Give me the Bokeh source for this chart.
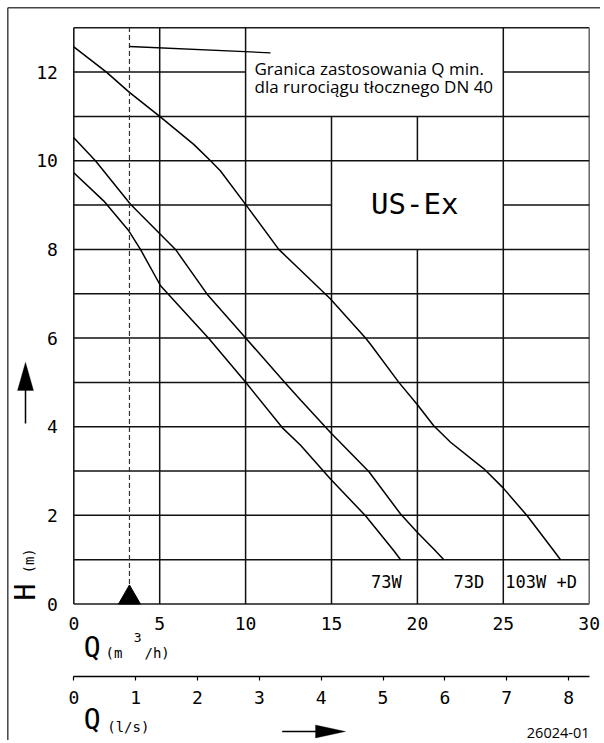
from bokeh.plotting import figure
from bokeh.models import Range1d, LinearAxis, FixedTicker, Label, PolyAnnotation
from bokeh.embed import file_html
from bokeh.resources import INLINE

# ---------------- data ----------------
# Q in m3/h, H in m
q_103wd = [0, 1.9, 3.22, 5.0, 6.98, 7.96, 8.54, 10.03, 11.93, 13.2, 14.94, 16.98,
           17.27, 18.92, 19.99, 20.95, 21.93, 23.87, 24.99, 26.39, 27.94, 28.33]
h_103wd = [12.57, 12.0, 11.55, 11.0, 10.37, 10.0, 9.77, 9.0, 8.0, 7.53, 6.88, 6.0,
           5.86, 5.0, 4.5, 4.02, 3.65, 3.05, 2.62, 1.99, 1.2, 1.0]

q_73d = [0, 1.26, 3.3, 5.92, 7.76, 10.03, 12.32, 13.2, 14.94, 17.17, 19.02, 19.99, 20.95, 21.54]
h_73d = [10.52, 10.0, 9.02, 8.0, 6.99, 5.99, 4.98, 4.6, 3.87, 2.99, 2.03, 1.62, 1.24, 1.0]

q_73w = [0, 1.75, 3.2, 3.88, 5.05, 7.86, 10.03, 12.13, 13.2, 14.94, 16.98, 18.63, 19.02]
h_73w = [9.73, 9.09, 8.42, 8.0, 7.18, 5.99, 4.99, 3.98, 3.58, 2.82, 1.99, 1.2, 1.0]

curve_names = ["73W", "73D", "103W +D"]
curve_label_q = [18.2, 23.0, 27.2]

q_ticks_m3h = [0, 5, 10, 15, 20, 25, 30]
q_ticks_ls = [0, 1, 2, 3, 4, 5, 6, 7, 8]
h_ticks = [0, 2, 4, 6, 8, 10, 12]

q_min_ls = 0.9          # Q min for DN 40 discharge line, l/s
M3H_PER_LS = 3.6
q_min = q_min_ls * M3H_PER_LS

Q_MAX, H_MAX = 30, 13

note_lines = ["Granica zastosowania Q min.", "dla rurociągu tłocznego DN 40"]
box_title = "US-Ex"
drawing_no = "26024-01"

# ---------------- layout: pixel placement of the chart box ----------------
W, HC = 600, 740
PX_Q0, PX_QMAX = 73.3, 588.7      # left / right edge of chart box
PY_H0, PY_HMAX = 603.5, 27.3      # bottom / top edge of chart box
SX = (PX_QMAX - PX_Q0) / Q_MAX
SY = (PY_H0 - PY_HMAX) / H_MAX


def qx(px):
    return (px - PX_Q0) / SX


def hy(py):
    return (PY_H0 - py) / SY


p = figure(width=W, height=HC,
           x_range=Range1d(qx(0), qx(W)), y_range=Range1d(hy(HC), hy(0)),
           output_backend="svg", toolbar_location=None,
           x_axis_location=None, y_axis_location=None,
           min_border=0, min_border_left=0, min_border_right=0,
           min_border_top=0, min_border_bottom=0)
p.xgrid.visible = False
p.ygrid.visible = False
p.outline_line_color = None
p.background_fill_color = "white"
p.border_fill_color = "white"

ISO = "DejaVu Sans Mono"
SANS = "Open Sans"

# ---------------- axes (fixed inside the canvas) ----------------
ya = LinearAxis(fixed_location=0, bounds=(0, H_MAX), ticker=FixedTicker(ticks=h_ticks))
ya.axis_line_color = None
ya.major_tick_line_color = None
ya.minor_tick_line_color = None
ya.major_label_standoff = 10
ya.major_label_text_font = ISO
ya.major_label_text_font_size = "18px"
ya.major_label_text_color = "black"
p.add_layout(ya, "left")

xa = LinearAxis(fixed_location=0, bounds=(0, Q_MAX), ticker=FixedTicker(ticks=q_ticks_m3h))
xa.axis_line_color = None
xa.major_tick_line_color = None
xa.minor_tick_line_color = None
xa.major_label_standoff = 7
xa.major_label_text_font = ISO
xa.major_label_text_font_size = "18px"
xa.major_label_text_color = "black"
p.add_layout(xa, "below")

p.extra_x_ranges = {"ls": Range1d(qx(0) / M3H_PER_LS, qx(W) / M3H_PER_LS)}
ax2 = LinearAxis(x_range_name="ls", fixed_location=hy(675.7), bounds=(0, Q_MAX / M3H_PER_LS),
                 ticker=FixedTicker(ticks=q_ticks_ls))
ax2.axis_line_color = "black"
ax2.axis_line_width = 1.5
ax2.major_tick_in = 0
ax2.major_tick_out = 4
ax2.major_tick_line_width = 1.2
ax2.major_tick_line_color = "black"
ax2.minor_tick_line_color = None
ax2.major_label_standoff = 11
ax2.major_label_text_font = ISO
ax2.major_label_text_font_size = "18px"
ax2.major_label_text_color = "black"
p.add_layout(ax2, "below")

# ---------------- sheet frame and chart box ----------------
p.segment(x0=[qx(7.3), qx(7.3)], y0=[hy(7.3), hy(7.3)], x1=[qx(W + 5), qx(7.3)],
          y1=[hy(7.3), hy(HC + 5)], line_color="#444444", line_width=1.5)
p.segment(x0=[0, 0, 0], y0=[0, 0, H_MAX], x1=[Q_MAX, 0, Q_MAX], y1=[0, H_MAX, H_MAX],
          line_color="#1a1a1a", line_width=1.6)
p.segment(x0=[Q_MAX], y0=[0], x1=[Q_MAX], y1=[H_MAX], line_color="#666666", line_width=1.5)

# ---------------- grid with gaps for the text boxes ----------------
hx0, hx1, hyl = [], [], []
for h in range(1, H_MAX):
    if h == 12:
        segs = [(0, 10), (25, Q_MAX)]
    elif h == 9:
        segs = [(0, 15), (25, Q_MAX)]
    else:
        segs = [(0, Q_MAX)]
    for a, b in segs:
        hx0.append(a); hx1.append(b); hyl.append(h)
p.segment(x0=hx0, y0=hyl, x1=hx1, y1=hyl, line_color="#111111", line_width=1.5)

vx, vy0, vy1 = [], [], []
for q, spans in [(5, [(0, 13)]), (10, [(0, 13)]), (15, [(0, 11)]),
                 (20, [(0, 8), (10, 11)]), (25, [(0, 13)])]:
    for a, b in spans:
        vx.append(q); vy0.append(a); vy1.append(b)
p.segment(x0=vx, y0=vy0, x1=vx, y1=vy1, line_color="#111111", line_width=1.5)

# ---------------- curves ----------------
for qs, hs in [(q_103wd, h_103wd), (q_73d, h_73d), (q_73w, h_73w)]:
    p.line(qs, hs, line_color="black", line_width=1.5)

# Q min marker
p.segment(x0=[q_min], y0=[0.45], x1=[q_min], y1=[H_MAX], line_color="#333333",
          line_width=1.2, line_dash="5 3")
p.scatter([q_min], [0 + 6.35 / SY], marker="triangle", size=22, color="black")
p.segment(x0=[q_min], y0=[hy(46)], x1=[qx(270)], y1=[hy(52.3)], line_color="black", line_width=1.3)


# ---------------- texts (y = visual centre of the text) ----------------
def lab(px, py, text, font, size, align="left", angle=0):
    p.add_layout(Label(x=qx(px), y=hy(py), text=text, text_font=font, text_font_size=size,
                       text_align=align, text_baseline="middle", text_color="black",
                       angle=angle, angle_units="deg"))


lab(254, 67.5, note_lines[0], SANS, "17px")
lab(254, 86, note_lines[1], SANS, "17px")
lab(414.2, 203.3, box_title, ISO, "29px", align="center")
for name, q in zip(curve_names, curve_label_q):
    p.add_layout(Label(x=q, y=hy(581.5), text=name, text_font=ISO, text_font_size="17px",
                       text_align="center", text_baseline="middle", text_color="black"))

# axis titles
lab(83.3, 647, "Q", ISO, "28px")
lab(105, 652.5, "(m", ISO, "14px")
lab(133.3, 636.7, "3", ISO, "13px")
lab(144, 652.5, "/h)", ISO, "14px")
lab(83.3, 718.7, "Q", ISO, "28px")
lab(106.7, 726.5, "(l/s)", ISO, "14px")
lab(25, 600, "H", ISO, "28px", angle=90)
lab(28.5, 573, "(m)", ISO, "14px", angle=90)
lab(589, 732, drawing_no, SANS, "14.5px", align="right")

# arrows (shafts + heads)
p.segment(x0=[qx(25), qx(281.7)], y0=[hy(423), hy(731)], x1=[qx(25), qx(316)],
          y1=[hy(389), hy(731)], line_color="black", line_width=1.5)
p.add_layout(PolyAnnotation(xs=[qx(17), qx(33), qx(25)], ys=[hy(390), hy(390), hy(361.7)],
                            fill_color="black", fill_alpha=1, line_color="black", line_width=1))
p.add_layout(PolyAnnotation(xs=[qx(315), qx(315), qx(345)], ys=[hy(724.5), hy(737.5), hy(731)],
                            fill_color="black", fill_alpha=1, line_color="black", line_width=1))

open("out.html", "w").write(file_html(p, INLINE))
